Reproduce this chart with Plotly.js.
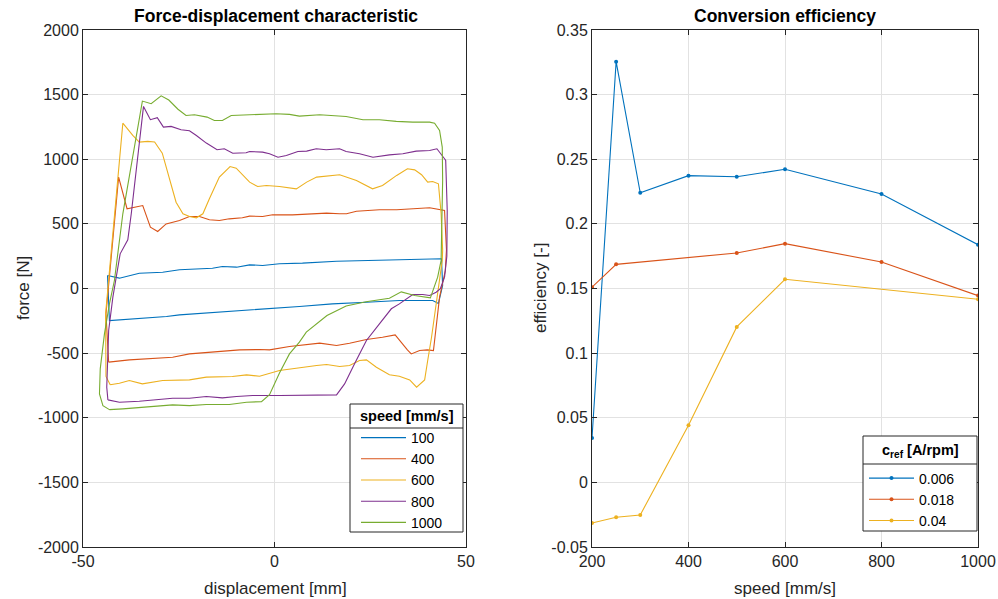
<!DOCTYPE html>
<html><head><meta charset="utf-8">
<script src="https://cdn.plot.ly/plotly-3.0.1.min.js"></script>
<style>html,body{margin:0;padding:0;background:#fff;} #chart{width:998px;height:599px;}</style>
</head><body><div id="chart"></div>
<script>
// ---------- Force-displacement data ----------
const speedLabels = ['100', '400', '600', '800', '1000'];

const disp100 = [-43.6,-40.5,-35.3,-29.2,-24.8,-20.4,-16.2,-13.6,-9.9,-6.5,-3.1,1.3,7.3,16.2,24.8,33.4,43.6,43.9,42.8,41.3,32.6,24.0,15.1,6.5,1.3,-5.7,-9.9,-13.6,-20.4,-24.8,-28.2,-33.4,-37.9,-43.1,-43.6];
const force100 = [100,80,118,126,145,152,157,170,165,183,178,191,196,211,217,224,230,23,-116,-93,-93,-106,-119,-139,-150,-163,-170,-178,-196,-204,-217,-227,-235,-248,100];

const disp400 = [-43.3,-44.0,-40.7,-38.5,-34.4,-32.4,-30.5,-28.3,-24.8,-22.2,-19.6,-17.0,-14.4,-11.8,-8.4,-6.5,-3.1,-0.5,4.7,9.1,13.6,17.0,18.8,21.4,27.4,31.9,36.0,40.5,44.4,44.9,44.6,43.1,41.5,39.9,37.9,35.7,34.7,32.6,31.5,28.2,24.0,19.6,16.2,11.8,6.5,3.9,-1.3,-3.9,-9.1,-16.2,-22.2,-26.6,-33.4,-37.9,-43.3];
const force400 = [-570,-195,862,617,642,475,441,500,526,557,557,532,526,539,547,560,557,570,570,578,583,578,578,598,609,609,617,625,604,300,139,-67,-480,-475,-480,-506,-475,-402,-359,-377,-395,-423,-441,-423,-441,-449,-475,-472,-475,-493,-506,-532,-545,-552,-570];

const disp600 = [-42.9,-44.0,-44.1,-39.6,-37.0,-35.3,-33.1,-31.3,-29.3,-27.4,-25.7,-23.9,-22.2,-20.4,-18.7,-17.0,-14.4,-11.6,-10.0,-6.5,-4.4,-2.1,1.3,5.7,8.4,11.0,14.4,17.0,21.4,25.6,28.2,31.9,34.7,36.6,38.4,40.0,41.3,42.8,43.5,43.9,43.8,43.1,42.2,41.0,40.0,39.2,37.1,35.3,32.6,30.0,26.6,24.0,22.2,19.6,17.0,13.6,11.0,6.5,1.3,-3.9,-7.3,-11.0,-17.8,-22.2,-25.6,-29.2,-34.5,-37.9,-40.5,-42.9];
const force600 = [-745,-680,-196,1279,1184,1133,1138,1133,1047,836,668,578,557,547,578,694,862,944,931,823,789,797,789,771,823,862,875,880,836,771,797,875,926,918,880,823,828,810,580,294,217,62,-116,-377,-557,-707,-764,-707,-679,-668,-609,-552,-557,-596,-604,-588,-596,-614,-635,-679,-668,-681,-686,-707,-707,-712,-738,-712,-733,-745];

const disp800 = [-43.5,-43.8,-43.3,-42.2,-40.3,-38.3,-37.4,-34.2,-32.4,-30.6,-29.0,-27.0,-24.4,-22.2,-20.4,-17.8,-15.0,-13.1,-10.9,-7.4,-6.5,-3.1,-1.3,0.9,3.1,6.1,8.4,10.9,13.5,17.0,18.7,22.2,25.7,30.0,33.5,37.0,40.5,42.4,44.4,44.7,45.1,45.0,44.4,43.3,42.2,40.5,38.7,36.1,32.6,30.5,27.4,24.0,20.9,18.3,16.2,7.3,1.3,-3.4,-5.7,-9.9,-13.6,-17.8,-22.2,-26.6,-33.4,-35.3,-40.5,-42.2,-43.5];
const force800 = [-862,-764,-325,-67,268,377,578,1409,1306,1321,1249,1254,1228,1220,1184,1125,1074,1081,1047,1050,1060,1055,1042,1016,1029,1060,1063,1081,1074,1081,1060,1042,1016,1034,1042,1063,1068,1081,1004,991,600,250,88,-2,-29,-54,-46,-46,-119,-157,-273,-402,-583,-738,-823,-828,-828,-828,-828,-836,-846,-836,-849,-849,-867,-872,-880,-872,-862];

const disp1000 = [-43.1,-44.8,-45.7,-45.5,-44.4,-43.1,-41.8,-39.6,-34.5,-32.2,-29.6,-27.6,-25.2,-23.1,-20.9,-17.6,-15.7,-13.6,-11.3,-7.4,-3.9,0.4,3.9,6.5,11.8,17.0,18.7,23.1,27.4,31.8,36.1,40.5,41.8,43.1,43.8,43.9,43.5,42.6,40.7,36.6,33.1,30.0,23.9,18.7,13.7,8.3,6.5,3.9,1.3,-1.3,-3.4,-7.3,-11.8,-17.8,-22.2,-26.6,-33.4,-39.6,-43.1];
const force1000 = [-937,-906,-815,-622,-351,-119,62,578,1450,1430,1491,1458,1387,1339,1344,1326,1300,1300,1339,1344,1350,1352,1347,1334,1344,1331,1331,1306,1306,1293,1287,1287,1279,1223,1094,836,217,88,-72,-54,-26,-76,-103,-135,-209,-338,-415,-506,-654,-822,-875,-880,-898,-898,-906,-900,-918,-931,-937];

// ---------- Conversion efficiency data ----------
const crefLabels = ['0.006', '0.018', '0.04'];
const speed006 = [200, 250, 300, 400, 500, 600, 800, 1000];
const eff006 = [0.0343, 0.3255, 0.2241, 0.2373, 0.2365, 0.2422, 0.2231, 0.1839];
const speed018 = [200, 250, 500, 600, 800, 1000];
const eff018 = [0.1510, 0.1687, 0.1775, 0.1847, 0.1705, 0.1445];
const speed04 = [200, 250, 300, 400, 500, 600, 1000];
const eff04 = [-0.0314, -0.0270, -0.0252, 0.0442, 0.1203, 0.1571, 0.1417];

// ---------- Tick labels ----------
const forceTicks = [-2000, -1500, -1000, -500, 0, 500, 1000, 1500, 2000];
const forceTickText = ['-2000', '-1500', '-1000', '-500', '0', '500', '1000', '1500', '2000'];
const dispTicks = [-50, 0, 50];
const dispTickText = ['-50', '0', '50'];
const speedTicks = [200, 400, 600, 800, 1000];
const speedTickText = ['200', '400', '600', '800', '1000'];
const effTicks = [-0.05, 0, 0.05, 0.1, 0.15, 0.2, 0.25, 0.3, 0.35];
const effTickText = ['-0.05', '0', '0.05', '0.1', '0.15', '0.2', '0.25', '0.3', '0.35'];

// ---------- Styling ----------
const FONT = 'Liberation Sans, Arial, Helvetica, sans-serif';
const colors = ['#0072BD', '#D95319', '#EDB120', '#7E2F8E', '#77AC30'];
const W = 998, H = 599;
const px = v => v / W;
const py = v => 1 - v / H;

const loopsX = [disp100, disp400, disp600, disp800, disp1000];
const loopsY = [force100, force400, force600, force800, force1000];

const traces = [];
speedLabels.forEach((lab, i) => {
  traces.push({
    type: 'scatter', mode: 'lines', name: lab,
    x: loopsX[i], y: loopsY[i],
    xaxis: 'x', yaxis: 'y', legend: 'legend',
    line: {color: colors[i], width: 1.1},
    hoverinfo: 'skip'
  });
});
const effX = [speed006, speed018, speed04];
const effY = [eff006, eff018, eff04];
crefLabels.forEach((lab, i) => {
  traces.push({
    type: 'scatter', mode: 'lines+markers', name: lab,
    x: effX[i], y: effY[i],
    xaxis: 'x2', yaxis: 'y2', legend: 'legend2',
    line: {color: colors[i], width: 1.1},
    marker: {color: colors[i], size: 4},
    hoverinfo: 'skip'
  });
});

const axisBase = {
  showline: true, linecolor: '#262626', linewidth: 1, mirror: 'ticks',
  ticks: 'inside', ticklen: 5, tickcolor: '#262626', tickwidth: 1,
  showgrid: true, gridcolor: '#e2e2e2', gridwidth: 1, zeroline: false,
  tickfont: {family: FONT, size: 16, color: '#262626'},
  automargin: false, fixedrange: true
};
const yDomain = [py(547), py(30)];

const legendBase = {
  xanchor: 'left', yanchor: 'top',
  bgcolor: 'rgba(0,0,0,0)', borderwidth: 0,
  font: {family: FONT, size: 14, color: '#000'},
  tracegroupgap: 0
};

const layout = {
  width: W, height: H,
  margin: {l: 0, r: 0, t: 0, b: 0},
  paper_bgcolor: '#ffffff', plot_bgcolor: '#ffffff',
  font: {family: FONT, color: '#262626'},
  xaxis: Object.assign({}, axisBase, {domain: [px(83), px(466)], range: [-50, 50], tickvals: dispTicks, ticktext: dispTickText, anchor: 'y'}),
  yaxis: Object.assign({}, axisBase, {domain: yDomain, range: [-2000, 2000], tickvals: forceTicks, ticktext: forceTickText, anchor: 'x'}),
  xaxis2: Object.assign({}, axisBase, {domain: [px(592), px(978)], range: [200, 1000], tickvals: speedTicks, ticktext: speedTickText, anchor: 'y2'}),
  yaxis2: Object.assign({}, axisBase, {domain: yDomain, range: [-0.05, 0.35], tickvals: effTicks, ticktext: effTickText, anchor: 'x2'}),
  showlegend: true,
  legend: Object.assign({}, legendBase, {x: px(356), y: py(422), itemwidth: 45}),
  legend2: Object.assign({}, legendBase, {x: px(864), y: py(462.5), itemwidth: 45}),
  shapes: [
    {type: 'rect', xref: 'paper', yref: 'paper', x0: px(350), x1: px(463), y0: py(532), y1: py(404), fillcolor: '#fff', line: {color: '#262626', width: 1}, layer: 'above'},
    {type: 'line', xref: 'paper', yref: 'paper', x0: px(350), x1: px(463), y0: py(428), y1: py(428), line: {color: '#262626', width: 1}, layer: 'above'},
    {type: 'rect', xref: 'paper', yref: 'paper', x0: px(863), x1: px(977), y0: py(531), y1: py(436), fillcolor: '#fff', line: {color: '#262626', width: 1}, layer: 'above'},
    {type: 'line', xref: 'paper', yref: 'paper', x0: px(863), x1: px(977), y0: py(464), y1: py(464), line: {color: '#262626', width: 1}, layer: 'above'}
  ],
  annotations: [
    {text: '<b>Force-displacement characteristic</b>', xref: 'paper', yref: 'paper', x: px(276), y: py(16), xanchor: 'center', yanchor: 'middle', showarrow: false, font: {family: FONT, size: 17.5, color: '#000'}},
    {text: '<b>Conversion efficiency</b>', xref: 'paper', yref: 'paper', x: px(785), y: py(16), xanchor: 'center', yanchor: 'middle', showarrow: false, font: {family: FONT, size: 17.5, color: '#000'}},
    {text: 'displacement [mm]', xref: 'paper', yref: 'paper', x: px(275), y: py(588), xanchor: 'center', yanchor: 'middle', showarrow: false, font: {family: FONT, size: 17, color: '#262626'}},
    {text: 'speed [mm/s]', xref: 'paper', yref: 'paper', x: px(785), y: py(588), xanchor: 'center', yanchor: 'middle', showarrow: false, font: {family: FONT, size: 17, color: '#262626'}},
    {text: 'force [N]', xref: 'paper', yref: 'paper', x: px(23), y: py(288), xanchor: 'center', yanchor: 'middle', textangle: -90, showarrow: false, font: {family: FONT, size: 17, color: '#262626'}},
    {text: 'efficiency [-]', xref: 'paper', yref: 'paper', x: px(540), y: py(288), xanchor: 'center', yanchor: 'middle', textangle: -90, showarrow: false, font: {family: FONT, size: 17, color: '#262626'}},
    {text: '<b>speed [mm/s]</b>', xref: 'paper', yref: 'paper', x: px(406.5), y: py(416), xanchor: 'center', yanchor: 'middle', showarrow: false, font: {family: FONT, size: 14.5, color: '#000'}},
    {text: '<b>c<sub>ref</sub> [A/rpm]</b>', xref: 'paper', yref: 'paper', x: px(920), y: py(451), xanchor: 'center', yanchor: 'middle', showarrow: false, font: {family: FONT, size: 14.5, color: '#000'}}
  ]
};

Plotly.newPlot('chart', traces, layout, {displayModeBar: false, staticPlot: true});
</script>
</body></html>
